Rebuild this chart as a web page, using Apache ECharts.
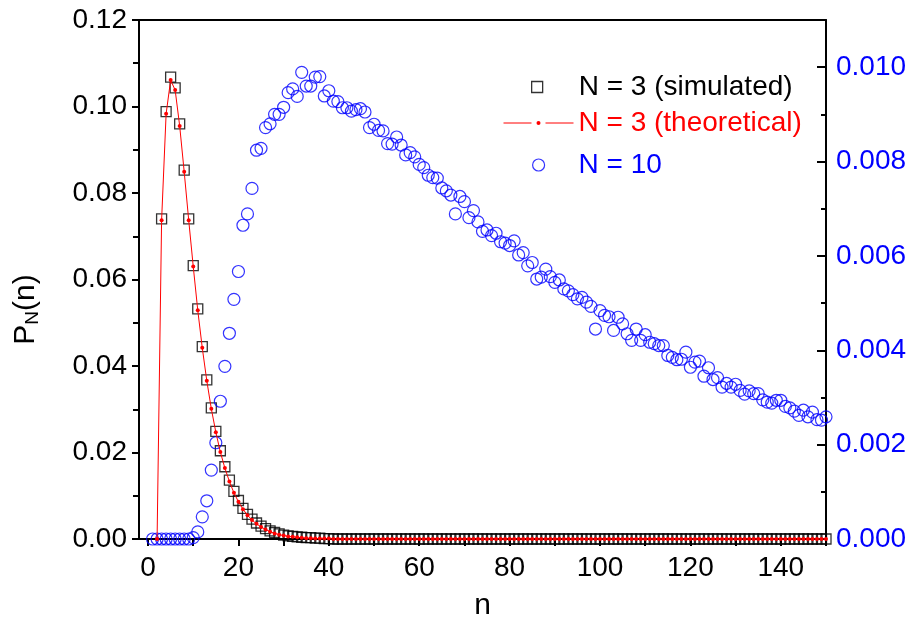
<!DOCTYPE html>
<html>
<head>
<meta charset="utf-8">
<script src="https://cdn.jsdelivr.net/npm/echarts@6/dist/echarts.min.js"></script>
<style>
html,body{margin:0;padding:0;background:#fff;}
#chart{width:914px;height:628px;}
</style>
</head>
<body>
<div id="chart"></div>
<script>
// n values (x axis)
const nValues = [
  1,2,3,4,5,6,7,8,9,10, 11,12,13,14,15,16,17,18,19,20,
  21,22,23,24,25,26,27,28,29,30, 31,32,33,34,35,36,37,38,39,40,
  41,42,43,44,45,46,47,48,49,50, 51,52,53,54,55,56,57,58,59,60,
  61,62,63,64,65,66,67,68,69,70, 71,72,73,74,75,76,77,78,79,80,
  81,82,83,84,85,86,87,88,89,90, 91,92,93,94,95,96,97,98,99,100,
  101,102,103,104,105,106,107,108,109,110, 111,112,113,114,115,116,117,118,119,120,
  121,122,123,124,125,126,127,128,129,130, 131,132,133,134,135,136,137,138,139,140,
  141,142,143,144,145,146,147,148,149,150
];

// axis tick labels / tick positions
const xLabelValues = [0, 20, 40, 60, 80, 100, 120, 140];
const xTickValues = [0, 10, 20, 30, 40, 50, 60, 70, 80, 90, 100, 110, 120, 130, 140, 150];

// N = 3 (simulated), left axis
const n3Simulated = [
  null,null,0.0740,0.0988,0.1068,0.1043,0.0960,0.0853,0.0740,0.0632,
  0.0532,0.0445,0.0368,0.0303,0.0249,0.0204,0.0167,0.0136,0.0110,0.0089,
  0.0071,0.0057,0.0046,0.0037,0.0030,0.0024,0.0019,0.0015,0.0012,0.0009,
  0.0007,0.0006,0.0005,0.0004,0.0003,0.0003,0.0002,0.0002,0.0001,0.0001,
  0,0,0,0,0,0,0,0,0,0, 0,0,0,0,0,0,0,0,0,0,
  0,0,0,0,0,0,0,0,0,0, 0,0,0,0,0,0,0,0,0,0,
  0,0,0,0,0,0,0,0,0,0, 0,0,0,0,0,0,0,0,0,0,
  0,0,0,0,0,0,0,0,0,0, 0,0,0,0,0,0,0,0,0,0,
  0,0,0,0,0,0,0,0,0,0, 0,0,0,0,0,0,0,0,0,0,
  0,0,0,0,0,0,0,0,0,0
];

// N = 3 (theoretical), left axis
const n3Theoretical = [
  null,0,0.0737,0.0983,0.1061,0.1038,0.0955,0.0849,0.0737,0.0630,
  0.0529,0.0442,0.0366,0.0301,0.0247,0.0201,0.0164,0.0133,0.0107,0.0086,
  0.0069,0.0055,0.0044,0.0035,0.0028,0.0022,0.0017,0.0013,0.0010,0.0008,
  0.0006,0.0005,0.0004,0.0003,0.0002,0.0002,0.0001,0.0001,0.0001,0.0001,
  0,0,0,0,0,0,0,0,0,0, 0,0,0,0,0,0,0,0,0,0,
  0,0,0,0,0,0,0,0,0,0, 0,0,0,0,0,0,0,0,0,0,
  0,0,0,0,0,0,0,0,0,0, 0,0,0,0,0,0,0,0,0,0,
  0,0,0,0,0,0,0,0,0,0, 0,0,0,0,0,0,0,0,0,0,
  0,0,0,0,0,0,0,0,0,0, 0,0,0,0,0,0,0,0,0,0,
  0,0,0,0,0,0,0,0,0,0
];

// N = 10, right axis
const n10Values = [
  0,0,0,0,0,0,0,0,0,0.00003,
  0.00015,0.00047,0.00081,0.00146,0.00204,0.00292,0.00366,0.00436,0.00508,0.00567,
  0.00665,0.00689,0.00743,0.00824,0.00828,0.00872,0.00880,0.00900,0.00900,0.00915,
  0.00946,0.00954,0.00938,0.00989,0.00960,0.00960,0.00979,0.00980,0.00939,0.00950,
  0.00928,0.00927,0.00914,0.00914,0.00907,0.00910,0.00912,0.00905,0.00872,0.00879,
  0.00866,0.00865,0.00838,0.00837,0.00852,0.00835,0.00814,0.00819,0.00810,0.00794,
  0.00787,0.00771,0.00766,0.00765,0.00744,0.00738,0.00729,0.00689,0.00726,0.00715,
  0.00681,0.00696,0.00672,0.00652,0.00655,0.00643,0.00648,0.00630,0.00627,0.00622,
  0.00632,0.00602,0.00607,0.00579,0.00586,0.00551,0.00555,0.00572,0.00556,0.00544,
  0.00549,0.00530,0.00526,0.00518,0.00509,0.00512,0.00502,0.00493,0.00445,0.00484,
  0.00474,0.00471,0.00442,0.00470,0.00456,0.00435,0.00421,0.00445,0.00421,0.00433,
  0.00417,0.00414,0.00410,0.00410,0.00389,0.00385,0.00380,0.00381,0.00396,0.00364,
  0.00375,0.00377,0.00345,0.00363,0.00338,0.00342,0.00322,0.00330,0.00322,0.00328,
  0.00315,0.00307,0.00314,0.00308,0.00308,0.00295,0.00290,0.00288,0.00294,0.00294,
  0.00281,0.00278,0.00271,0.00262,0.00273,0.00259,0.00269,0.00253,0.00252,0.00259
];

const seriesNames = ['N = 3 (simulated)', 'N = 3 (theoretical)', 'N = 10'];

function pairs(vals) {
  const out = [];
  for (let i = 0; i < nValues.length; i++) {
    if (vals[i] !== null && vals[i] !== undefined) out.push([nValues[i], vals[i]]);
  }
  return out;
}

const FONT = "'Liberation Sans', Arial, sans-serif";
const chart = echarts.init(document.getElementById('chart'), null, {renderer: 'canvas'});

const option = {
  animation: false,
  backgroundColor: '#fff',
  textStyle: {fontFamily: FONT},
  grid: {left: 139, right: 88, top: 20, bottom: 89, containLabel: false},
  legend: [
    {
      left: 531, top: 73, padding: 0, itemWidth: 11, itemHeight: 11, selectedMode: false,
      textStyle: {fontFamily: FONT, fontSize: 28, color: '#000', padding: [0, 0, 0, 31]},
      data: [{name: seriesNames[0], icon: 'rect',
               itemStyle: {color: 'rgba(0,0,0,0)', borderColor: '#000', borderWidth: 1.3}}]
    },
    {
      left: 503, top: 109, padding: 0, itemWidth: 70, itemHeight: 5, selectedMode: false,
      textStyle: {fontFamily: FONT, fontSize: 28, color: '#ff0000'},
      data: [{name: seriesNames[1], lineStyle: {type: [28, 14], width: 1, color: '#ff0000'}}]
    },
    {
      left: 532, top: 151, padding: 0, itemWidth: 12, itemHeight: 12, selectedMode: false,
      textStyle: {fontFamily: FONT, fontSize: 28, color: '#0000ff', padding: [0, 0, 0, 29]},
      data: [{name: seriesNames[2], icon: 'circle',
               itemStyle: {color: 'rgba(0,0,0,0)', borderColor: '#0000ff', borderWidth: 1.2}}]
    }
  ],
  xAxis: [
    {
      type: 'value', min: -2, max: 150,
      name: 'n', nameLocation: 'middle', nameGap: 52,
      nameTextStyle: {fontFamily: FONT, fontSize: 30, color: '#000'},
      axisLine: {show: true, onZero: false, lineStyle: {color: '#000', width: 2}},
      axisTick: {show: true, inside: false, length: 7, customValues: xTickValues,
                 lineStyle: {color: '#000', width: 2}},
      axisLabel: {fontFamily: FONT, fontSize: 28, color: '#000', margin: 15, customValues: xLabelValues},
      splitLine: {show: false}
    },
    {
      type: 'value', position: 'top', min: -2, max: 150,
      axisLine: {show: true, onZero: false, lineStyle: {color: '#000', width: 2}},
      axisTick: {show: false}, axisLabel: {show: false}, splitLine: {show: false}
    }
  ],
  yAxis: [
    {
      type: 'value', position: 'left', min: 0, max: 0.12, interval: 0.02,
      name: '{a|P}{s|N}{a|(n)}', nameLocation: 'middle', nameGap: 96, nameRotate: 90,
      nameTextStyle: {
        fontFamily: FONT, color: '#000', padding: [0, 60, 0, 0],
        rich: {
          a: {fontFamily: FONT, fontSize: 30, lineHeight: 34, color: '#000'},
          s: {fontFamily: FONT, fontSize: 19, lineHeight: 34, color: '#000', padding: [14, 0, 0, 0]}
        }
      },
      axisLine: {show: true, onZero: false, lineStyle: {color: '#000', width: 2}},
      axisTick: {show: true, inside: false, length: 7, lineStyle: {color: '#000', width: 2}},
      minorTick: {show: true, splitNumber: 2, length: 6, lineStyle: {color: '#000', width: 2}},
      axisLabel: {fontFamily: FONT, fontSize: 28, color: '#000', margin: 12,
                  formatter: v => v.toFixed(2)},
      splitLine: {show: false}
    },
    {
      type: 'value', position: 'right', min: 0, max: 0.011, interval: 0.002,
      axisLine: {show: true, onZero: false, lineStyle: {color: '#000', width: 2}},
      axisTick: {show: true, inside: true, length: 9, lineStyle: {color: '#000', width: 2}},
      minorTick: {show: true, splitNumber: 2, length: 5, lineStyle: {color: '#000', width: 2}},
      axisLabel: {fontFamily: FONT, fontSize: 28, color: '#0000ff', margin: 10, showMaxLabel: false,
                  formatter: v => v.toFixed(3)},
      splitLine: {show: false}
    }
  ],
  series: [
    {
      name: seriesNames[0], type: 'scatter', xAxisIndex: 0, yAxisIndex: 0,
      symbol: 'rect', symbolSize: 10,
      itemStyle: {color: 'rgba(0,0,0,0)', borderColor: '#000', borderWidth: 1.3},
      data: pairs(n3Simulated), z: 2, silent: true
    },
    {
      name: seriesNames[2], type: 'scatter', xAxisIndex: 0, yAxisIndex: 1,
      symbol: 'circle', symbolSize: 12,
      itemStyle: {color: 'rgba(0,0,0,0)', borderColor: '#0000ff', borderWidth: 1.2},
      data: pairs(n10Values), z: 3, silent: true
    },
    {
      name: seriesNames[1], type: 'line', xAxisIndex: 0, yAxisIndex: 0,
      symbol: 'circle', symbolSize: 4, showSymbol: true, showAllSymbol: true,
      itemStyle: {color: '#ff0000', borderWidth: 0},
      lineStyle: {color: '#ff0000', width: 1},
      data: pairs(n3Theoretical), z: 4, silent: true
    }
  ]
};
chart.setOption(option);
</script>
</body>
</html>
